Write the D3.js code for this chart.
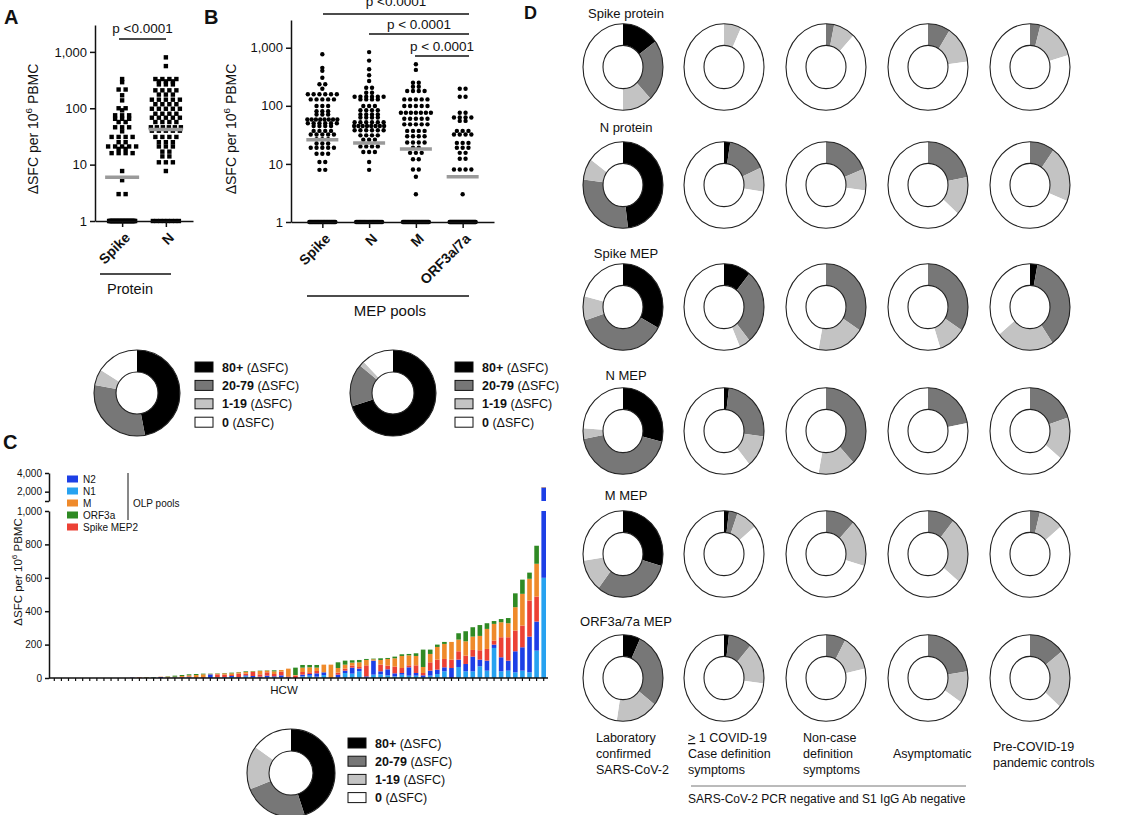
<!DOCTYPE html>
<html>
<head>
<meta charset="utf-8">
<script src="https://cdn.jsdelivr.net/npm/d3@7"></script>
<style>
  body { margin: 0; background: #fff; }
  text { font-family: "Liberation Sans", Arial, Helvetica, sans-serif; fill: #111; }
</style>
</head>
<body>
<div id="fig"></div>
<script>
// ---- A: protein pools (square markers) ----
const aCats = ["Spike", "N"];
const aSpike = [330, 290, 215, 215, 170, 138, 100, 100, 92, 75, 75, 75, 65, 65, 65, 57, 57,
  46, 46, 46, 39, 31, 31, 31, 31, 25, 25, 21, 21, 21, 21, 21, 19, 19, 16, 16, 16, 16, 7.7, 5.3, 3, 3];
const aN = [800, 560, 330, 330, 330, 330, 300, 300, 300, 265, 265, 265, 208, 208, 208, 208,
  175, 175, 175, 142, 142, 142, 142, 142, 118, 118, 118, 118, 98, 98, 98, 98, 98, 80, 80, 80, 80,
  68, 68, 68, 68, 68, 57, 57, 57, 57, 46, 46, 46, 46, 46, 46, 40, 40, 40, 40, 40, 31, 31, 31, 31,
  25, 25, 25, 21, 21, 21, 17, 17, 14, 14, 11, 11, 11, 7.7];
const aZeros = [35, 8];
const aMedians = [6, 42];

// ---- B: MEP pools (round markers) ----
const bCats = ["Spike", "N", "M", "ORF3a/7a"];
const bSpike = [770, 450, 400, 305, 235, 235, 197, 158, 158, 158, 158, 158, 158, 129, 129, 129, 129, 129,
  99, 99, 99, 81, 81, 81, 71, 71, 71, 58, 58, 58, 58, 58, 58, 58, 58, 50, 50, 50, 50, 50, 50,
  45, 45, 45, 45, 37, 37, 37, 37, 32, 32, 32, 32, 32, 26.5, 26.5, 26.5, 22.5, 22.5, 22.5,
  19, 19, 19, 19, 19, 15, 15, 15, 10.8, 10.8, 7.9, 7.9];
const bN = [840, 600, 425, 335, 268, 205, 205, 168, 168, 143, 143, 143, 143, 143, 143, 129, 129, 129, 129,
  99, 99, 99, 84, 84, 84, 84, 71, 71, 71, 71, 63, 63, 63, 63, 52, 52, 52, 52, 52, 52,
  45, 45, 45, 45, 45, 45, 45, 45, 38, 38, 38, 38, 38, 38, 31, 31, 31, 31, 26, 26, 26,
  20, 20, 20, 20, 16, 16, 16, 10.8, 7.9];
const bM = [520, 415, 250, 250, 213, 213, 180, 180, 180, 180, 129, 129, 129, 129, 129, 99, 99, 99, 99, 99,
  76, 76, 76, 76, 76, 76, 76, 60, 60, 60, 60, 60, 48, 48, 48, 48, 48, 37, 37, 37, 37, 30, 30, 30, 30,
  23.3, 23.3, 23.3, 23.3, 19, 19, 15.5, 15.5, 15.5, 12, 12, 8, 8, 6, 3];
const bOrf = [197, 197, 143, 143, 76, 76, 63, 63, 63, 63, 55, 55, 37, 37, 37, 32, 32, 32, 32,
  23, 23, 23, 19, 19, 19, 15.5, 15.5, 12.3, 12.3, 8, 8, 8, 8, 3];
const bZeros = [30, 25, 30, 40];
const bMedians = [26, 23, 18, 6];

// ---- ring summaries: fractions for 80+, 20-79, 1-19, 0 ----
const ringLabels = ["80+", "20-79", "1-19", "0"];
const ringA = [0.47, 0.31, 0.06, 0.16];
const ringB = [0.70, 0.16, 0.02, 0.12];
const ringC = [0.45, 0.24, 0.16, 0.15];

// ---- C: OLP pools per HCW (stacked, bottom -> top N1, N2, Spike MEP2, M, ORF3a) ----
const hcw = d3.range(1, 71);
const olpN1 = [0,0,0,0,0,0,0,0,0,0,0, 0,0,0,1,0,0,2,2,4,0,0,0,2,2,6,2,10,4,2,4,6,
  4,0,0,10,14,8,18,0,4,30,26,40,4,20,22,16,10,20,14,14,6,14,24,40,0,66,40,40,70,44,180,40,44,34,44,34,164,600];
const olpN2 = [0,0,0,0,0,0,0,0,0,0,0, 2,0,0,2,6,2,2,2,2,0,2,22,2,4,6,4,6,8,6,10,4,
  12,4,0,10,10,20,16,0,16,14,36,16,6,84,18,36,18,10,50,16,10,30,26,24,60,44,44,88,40,60,20,84,60,126,140,214,174,1840];
const olpS2 = [0,0,0,0,0,0,0,0,0,0,0, 1,3,1,0,0,2,0,2,4,4,4,0,18,14,6,20,10,24,14,20,14,
  22,6,14,16,10,14,0,0,12,12,12,10,66,0,40,22,40,30,12,46,14,50,60,50,50,50,50,40,56,70,24,120,140,124,130,216,150,20];
const olpM = [0,0,0,0,0,0,0,0,0,0,0, 0,1,2,1,2,4,4,6,6,14,16,2,4,8,10,8,10,4,20,10,16,
  10,46,4,26,30,20,46,80,28,24,18,28,32,8,28,40,50,72,60,56,36,50,76,90,106,70,86,80,86,120,100,90,84,140,190,130,196,30];
const olpO = [0,0,0,0,0,0,0,0,0,0,0, 0,0,2,2,0,2,6,6,6,6,4,2,2,2,4,2,4,2,2,2,6,
  0,0,44,16,14,16,0,0,34,24,14,14,6,4,10,6,10,10,8,16,104,26,14,12,0,38,60,56,65,34,17,19,31,83,85,37,108,10];
const olpKeys = ["N1", "N2", "Spike MEP2", "M", "ORF3a"];
const olpLegend = ["N2", "N1", "M", "ORF3a", "Spike MEP2"];

// ---- D: ring fractions per peptide pool (rows) and group (columns) ----
const dRows = ["Spike protein", "N protein", "Spike MEP", "N MEP", "M MEP", "ORF3a/7a MEP"];
const dCols = [["Laboratory", "confirmed", "SARS-CoV-2"], ["≥ 1 COVID-19", "Case definition", "symptoms"],
  ["Non-case", "definition", "symptoms"], ["Asymptomatic"], ["Pre-COVID-19", "pandemic controls"]];
const dBlack = [[0.15, 0, 0, 0, 0], [0.48, 0.025, 0, 0, 0], [0.33, 0.11, 0, 0, 0.03],
  [0.29, 0.02, 0, 0, 0], [0.295, 0.02, 0, 0, 0], [0.07, 0.02, 0, 0, 0]];
const dDark = [[0.23, 0, 0.033, 0.09, 0.042], [0.29, 0.16, 0.19, 0.22, 0.10], [0.37, 0.28, 0.34, 0.34, 0.375],
  [0.43, 0.25, 0.38, 0.22, 0.20], [0.31, 0.035, 0.12, 0.11, 0.04], [0.285, 0.095, 0.08, 0.225, 0.145]];
const dLight = [[0.12, 0.07, 0.087, 0.14, 0.163], [0.08, 0.09, 0.08, 0.145, 0.21], [0.09, 0.045, 0.19, 0.11, 0.235],
  [0.04, 0.12, 0.15, 0, 0.16], [0.12, 0.085, 0.175, 0.25, 0.10], [0.17, 0.155, 0.135, 0.12, 0.22]];

const ringColors = ["#000000", "#777777", "#c3c3c3", "#ffffff"];
const olpColor = d3.scaleOrdinal()
  .domain(["N2", "N1", "M", "ORF3a", "Spike MEP2"])
  .range(["#1d3fe6", "#27a2f0", "#ef8a2b", "#2f8a24", "#ec4135"]);

const svg = d3.select("#fig").append("svg").attr("width", 1140).attr("height", 815);

// helpers
function styleAxis(g, size) {
  g.selectAll("path, line").attr("stroke", "#111").attr("stroke-width", 1.5);
  g.selectAll("text").attr("font-size", size).attr("fill", "#111")
    .attr("font-family", "Liberation Sans, Arial, sans-serif");
}

function yLabel(x, y, size) {
  const t = svg.append("text").attr("transform", `translate(${x},${y}) rotate(-90)`)
    .attr("text-anchor", "middle").attr("font-size", size);
  t.append("tspan").text("ΔSFC per 10");
  t.append("tspan").attr("font-size", size * 0.7).attr("dy", -size * 0.4).text("6");
  t.append("tspan").attr("dy", size * 0.4).text(" PBMC");
}

function panelLetter(t, x, y, size) {
  svg.append("text").attr("x", x).attr("y", y).attr("font-size", size).attr("font-weight", "bold").text(t);
}

function strip(x, y, cat, vals, nZero, median, square, gap, halfW) {
  const pts = [];
  d3.groups(vals, v => v).forEach(([v, arr]) => {
    const n = arr.length, s = n > 1 ? Math.min(gap, 30 / (n - 1)) : 0;
    arr.forEach((_, i) => pts.push([x(cat) + (i - (n - 1) / 2) * s, y(v)]));
  });
  for (let i = 0; i < nZero; i++) pts.push([x(cat) - 13 + 26 * i / (nZero - 1), y(1)]);
  if (square) {
    svg.append("g").selectAll("rect").data(pts).join("rect")
      .attr("x", d => d[0] - 2.2).attr("y", d => d[1] - 2.2)
      .attr("width", 4.4).attr("height", 4.4).attr("fill", "#000");
  } else {
    svg.append("g").selectAll("circle").data(pts).join("circle")
      .attr("cx", d => d[0]).attr("cy", d => d[1]).attr("r", 2.2).attr("fill", "#000");
  }
  svg.append("line").attr("x1", x(cat) - halfW).attr("x2", x(cat) + halfW)
    .attr("y1", y(median)).attr("y2", y(median))
    .attr("stroke", "#9a9a9a").attr("stroke-width", 3.5);
}

function bracket(x1, x2, y, label, ty) {
  svg.append("line").attr("x1", x1).attr("x2", x2).attr("y1", y).attr("y2", y)
    .attr("stroke", "#111").attr("stroke-width", 1.6);
  svg.append("text").attr("x", (x1 + x2) / 2).attr("y", ty).attr("text-anchor", "middle")
    .attr("font-size", 13.5).text(label);
}

const pie = d3.pie().sort(null).value(d => d.v);
function ring(cx, cy, rO, rI, fr, sy) {
  const arc = d3.arc().innerRadius(rI).outerRadius(rO);
  const g = svg.append("g").attr("transform", `translate(${cx},${cy}) scale(1,${sy})`);
  const slices = pie(fr.map((v, i) => ({ v, c: ringColors[i] }))).filter(d => d.data.v > 0);
  g.selectAll("path").data(slices).join("path").attr("d", arc).attr("fill", d => d.data.c);
  [rO, rI].forEach(r => g.append("circle").attr("r", r).attr("fill", "none")
    .attr("stroke", "#222").attr("stroke-width", 1.1).attr("vector-effect", "non-scaling-stroke"));
}

function ringLegend(x, y0, step) {
  ringLabels.forEach((lab, i) => {
    const cy = y0 + i * step;
    svg.append("rect").attr("x", x).attr("y", cy - 5).attr("width", 18).attr("height", 10)
      .attr("fill", ringColors[i]).attr("stroke", "#111").attr("stroke-width", 1);
    const t = svg.append("text").attr("x", x + 27).attr("y", cy + 4.5).attr("font-size", 12.5);
    t.append("tspan").attr("font-weight", "bold").text(lab);
    t.append("tspan").text(" (ΔSFC)");
  });
}

// ================= Panel A =================
panelLetter("A", 4, 24, 20);
const yA = d3.scaleLog().domain([1, 3000]).range([221, 25]);
const xA = d3.scalePoint().domain(aCats).range([95, 193]).padding(0.62);
aCats.forEach((c, i) => strip(xA, yA, c, [aSpike, aN][i], aZeros[i], aMedians[i], true, 7, 17));
const gAy = svg.append("g").attr("transform", "translate(95,0)")
  .call(d3.axisLeft(yA).tickValues([1, 10, 100, 1000]).tickFormat(d3.format(",")).tickSize(5).tickSizeOuter(0));
styleAxis(gAy, 13);
const gAx = svg.append("g").attr("transform", "translate(0,221)")
  .call(d3.axisBottom(xA).tickSize(6).tickSizeOuter(0));
styleAxis(gAx, 14);
gAx.selectAll("text").attr("font-weight", "bold").attr("text-anchor", "end")
  .attr("x", 0).attr("y", 0).attr("dy", "0.35em").attr("transform", "translate(5,14) rotate(-45)");
yLabel(38, 129, 14);
bracket(119, 166, 39, "p <0.0001", 33);
svg.append("line").attr("x1", 100).attr("x2", 171).attr("y1", 274).attr("y2", 274)
  .attr("stroke", "#111").attr("stroke-width", 1.6);
svg.append("text").attr("x", 130).attr("y", 294).attr("text-anchor", "middle").attr("font-size", 14.5).text("Protein");

// ================= Panel B =================
panelLetter("B", 204, 24, 20);
const yB = d3.scaleLog().domain([1, 3000]).range([222, 20]);
const xB = d3.scalePoint().domain(bCats).range([291, 494]).padding(0.67);
bCats.forEach((c, i) => strip(xB, yB, c, [bSpike, bN, bM, bOrf][i], bZeros[i], bMedians[i], false, 5.8, 16));
const gBy = svg.append("g").attr("transform", "translate(291,0)")
  .call(d3.axisLeft(yB).tickValues([1, 10, 100, 1000]).tickFormat(d3.format(",")).tickSize(5).tickSizeOuter(0));
styleAxis(gBy, 13);
const gBx = svg.append("g").attr("transform", "translate(0,222)")
  .call(d3.axisBottom(xB).tickSize(6).tickSizeOuter(0));
styleAxis(gBx, 14);
gBx.selectAll("text").attr("font-weight", "bold").attr("text-anchor", "end")
  .attr("x", 0).attr("y", 0).attr("dy", "0.35em").attr("transform", "translate(5,14) rotate(-45)");
yLabel(236, 129, 14);
bracket(323, 469, 14, "p <0.0001", 6);
bracket(369, 469, 34, "p < 0.0001", 29);
bracket(415, 469, 56, "p < 0.0001", 51);
svg.append("line").attr("x1", 307).attr("x2", 469).attr("y1", 296).attr("y2", 296)
  .attr("stroke", "#111").attr("stroke-width", 1.6);
svg.append("text").attr("x", 390).attr("y", 316).attr("text-anchor", "middle").attr("font-size", 15).text("MEP pools");

// summary rings under A and B
ring(137, 393, 43, 21, ringA, 1);
ringLegend(195, 367, 18.4);
ring(393, 393, 43, 21, ringB, 1);
ringLegend(455, 367, 18.4);

// ================= Panel C =================
panelLetter("C", 3, 449, 20);
const table = hcw.map((id, i) => ({ id, "N1": olpN1[i], "N2": olpN2[i], "Spike MEP2": olpS2[i], "M": olpM[i], "ORF3a": olpO[i] }));
const stack = d3.stack().keys(olpKeys)(table);
const xC = d3.scaleBand().domain(hcw).range([52, 546]).paddingInner(0.35).paddingOuter(0);
const yC = d3.scaleLinear().domain([0, 1000]).range([678, 511]);
const yC2 = d3.scaleLinear().domain([1000, 4000]).range([501, 473]);

stack.forEach(layer => {
  const g = svg.append("g").attr("fill", olpColor(layer.key));
  layer.forEach(d => {
    const lo0 = Math.min(d[0], 1000), lo1 = Math.min(d[1], 1000);
    if (lo1 > lo0) g.append("rect").attr("x", xC(d.data.id)).attr("width", xC.bandwidth())
      .attr("y", yC(lo1)).attr("height", yC(lo0) - yC(lo1));
    const up0 = Math.max(d[0], 1000), up1 = Math.max(d[1], 1000);
    if (up1 > up0) g.append("rect").attr("x", xC(d.data.id)).attr("width", xC.bandwidth())
      .attr("y", yC2(up1)).attr("height", yC2(up0) - yC2(up1));
  });
});

const gCy = svg.append("g").attr("transform", "translate(49,0)")
  .call(d3.axisLeft(yC).tickValues([0, 200, 400, 600, 800, 1000]).tickFormat(d3.format(",")).tickSize(4).tickSizeOuter(0));
styleAxis(gCy, 10);
const gCy2 = svg.append("g").attr("transform", "translate(49,0)")
  .call(d3.axisLeft(yC2).tickValues([1000, 2000, 4000]).tickFormat(d => d === 1000 ? "" : d3.format(",")(d)).tickSize(4).tickSizeOuter(0));
styleAxis(gCy2, 10);
const gCx = svg.append("g").attr("transform", "translate(0,678)")
  .call(d3.axisBottom(xC).tickSize(3).tickFormat(""));
gCx.select(".domain").remove();
styleAxis(gCx, 10);
gCx.selectAll("line").attr("stroke-width", 1.2);
svg.append("line").attr("x1", 49).attr("x2", 548).attr("y1", 678).attr("y2", 678)
  .attr("stroke", "#111").attr("stroke-width", 1.5);
yLabel(22, 572, 11.5);
svg.append("text").attr("x", 284).attr("y", 694).attr("text-anchor", "middle").attr("font-size", 11.5).text("HCW");

olpLegend.forEach((k, i) => {
  const cy = 479 + i * 12;
  svg.append("rect").attr("x", 67).attr("y", cy - 3.5).attr("width", 11).attr("height", 7).attr("fill", olpColor(k));
  svg.append("text").attr("x", 83).attr("y", cy + 3.5).attr("font-size", 10).text(k);
});
svg.append("line").attr("x1", 128).attr("x2", 128).attr("y1", 473).attr("y2", 520)
  .attr("stroke", "#111").attr("stroke-width", 1);
svg.append("text").attr("x", 133).attr("y", 507).attr("font-size", 10).text("OLP pools");

ring(291, 773, 44, 22, ringC, 1);
ringLegend(348, 743, 18.2);

// ================= Panel D =================
panelLetter("D", 524, 19, 18);
const dColX = [623, 724, 826, 928, 1030];
const dRowY = [67, 185, 307, 431, 554, 678];
const dTitleY = [18, 132, 258, 380, 500, 626];
dRows.forEach((name, r) => {
  svg.append("text").attr("x", dColX[0] + 3).attr("y", dTitleY[r]).attr("text-anchor", "middle")
    .attr("font-size", 13).text(name);
  dColX.forEach((cx, c) => {
    const b = dBlack[r][c], k = dDark[r][c], l = dLight[r][c];
    ring(cx, dRowY[r], 40, 20, [b, k, l, 1 - b - k - l], 1.083);
  });
});

const dColTextX = [596, 688, 803, 893, 993];
const dColTextY = [[742, 758, 774], [742, 758, 774], [742, 758, 774], [758], [751, 767]];
dCols.forEach((lines, c) => {
  lines.forEach((line, j) => {
    const t = svg.append("text").attr("x", dColTextX[c]).attr("y", dColTextY[c][j]).attr("font-size", 12.5);
    if (line.startsWith("≥")) {
      t.append("tspan").attr("text-decoration", "underline").text(">");
      t.append("tspan").text(line.slice(1));
    } else t.text(line);
  });
});
svg.append("line").attr("x1", 691).attr("x2", 966).attr("y1", 786).attr("y2", 786)
  .attr("stroke", "#777").attr("stroke-width", 1);
svg.append("text").attr("x", 688).attr("y", 803).attr("font-size", 12).text("SARS-CoV-2 PCR negative and S1 IgG Ab negative");
</script>
</body>
</html>
